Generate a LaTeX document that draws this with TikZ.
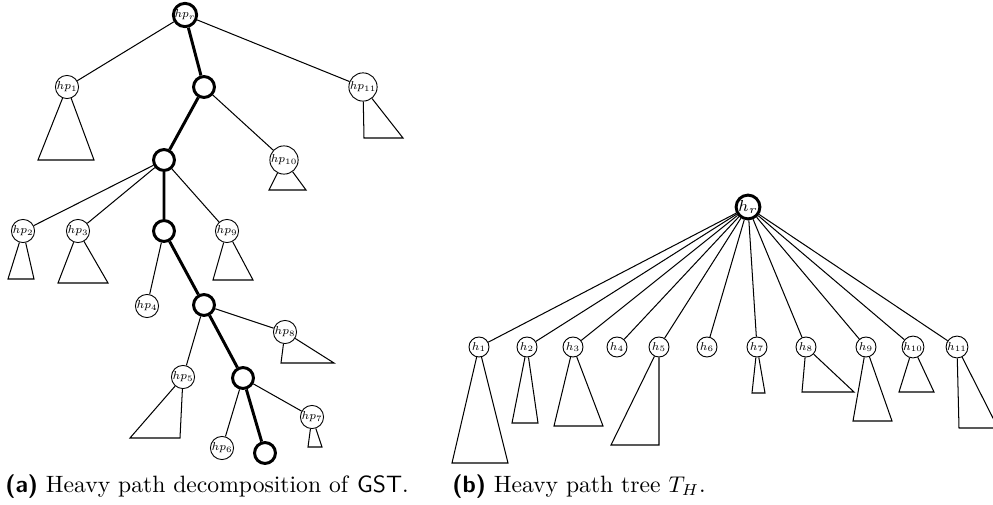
\documentclass[tikz,border=0pt]{standalone}
\usepackage{graphicx}
\usepackage{tikz}
\tikzstyle{hpnode} = [circle, draw=black, fill=white, inner sep=0pt, minimum size=8.8pt, font=\scriptsize]
\tikzstyle{heavynode} = [circle, draw=black, fill=white, line width=1.3pt, inner sep=0pt, minimum size=9.2pt]
\tikzstyle{light} = [line width=0.45pt]
\tikzstyle{heavy} = [line width=1.3pt]
\tikzstyle{caption} = [anchor=base west, inner sep=0pt, font=\fontsize{10.4}{12}\selectfont]
\newcommand{\hpl}[1]{\scalebox{0.72}{$#1$}}

\begin{document}
\begin{tikzpicture}[x=0.44pt, y=-0.44pt]
	\useasboundingbox (0,0) rectangle (993,505);

	\node (hpr) [heavynode, font=\scriptsize] at (185,15) {\hpl{hp_r}};
	\node (hp1) [hpnode] at (67,87) {\hpl{hp_1}};
	\node (a1) [heavynode] at (204,87) {};
	\node (hp11) [hpnode] at (363,87) {\hpl{hp_{11}}};
	\node (a2) [heavynode] at (164,160) {};
	\node (hp10) [hpnode] at (284,160) {\hpl{hp_{10}}};
	\node (hp2) [hpnode] at (23,231) {\hpl{hp_2}};
	\node (hp3) [hpnode] at (78,231) {\hpl{hp_3}};
	\node (a3) [heavynode] at (164,231) {};
	\node (hp9) [hpnode] at (227,231) {\hpl{hp_9}};
	\node (hp4) [hpnode] at (147,306) {\hpl{hp_4}};
	\node (a4) [heavynode] at (204,305) {};
	\node (hp8) [hpnode] at (285,332) {\hpl{hp_8}};
	\node (hp5) [hpnode] at (183,377) {\hpl{hp_5}};
	\node (a5) [heavynode] at (243,378) {};
	\node (hp7) [hpnode] at (312,417) {\hpl{hp_7}};
	\node (hp6) [hpnode] at (222,448) {\hpl{hp_6}};
	\node (a6) [heavynode] at (265,453) {};

	\draw [heavy] (hpr) -- (a1) -- (a2) -- (a3) -- (a4) -- (a5) -- (a6);
	\draw [light] (hpr) -- (hp1);
	\draw [light] (hpr) -- (hp11);
	\draw [light] (a1) -- (hp10);
	\draw [light] (a2) -- (hp2);
	\draw [light] (a2) -- (hp3);
	\draw [light] (a2) -- (hp9);
	\draw [light] (a3) -- (hp4);
	\draw [light] (a4) -- (hp8);
	\draw [light] (a4) -- (hp5);
	\draw [light] (a5) -- (hp6);
	\draw [light] (a5) -- (hp7);

	\foreach \n/\l/\r/\y in {hp1/38/94/160, hp11/364/403/138, hp10/269/306/190,
		hp2/8/34/279, hp3/58/108/283, hp9/213/253/280, hp8/281/334/363,
		hp5/130/180/438, hp7/308/322/447}
		\draw [light] (\n) -- (\l,\y) -- (\r,\y) -- (\n);

	\node (hr) [heavynode, minimum size=9.9pt, font=\scriptsize] at (748,207) {$h_r$};
	\foreach \i/\x in {1/479, 2/527, 3/573, 4/617, 5/659, 6/707, 7/757, 8/806, 9/866, 10/913, 11/957} {
		\node (h\i) [hpnode] at (\x,347) {\hpl{h_{\i}}};
		\draw [light] (hr) -- (h\i);
	}

	\foreach \n/\l/\r/\y in {h1/452/508/463, h2/512/538/423, h3/554/603/426,
		h5/611/659/445, h7/752/765/393, h8/802/854/392, h9/853/892/421,
		h10/899/934/392, h11/959/998/428}
		\draw [light] (\n) -- (\l,\y) -- (\r,\y) -- (\n);

	\node (capa) [caption] at (5,492) {\textsf{\textbf{(a)}} Heavy path decomposition of \textsf{GST}.};
	\node (capb) [caption] at (452,492) {\textsf{\textbf{(b)}} Heavy path tree $T_H$.};
\end{tikzpicture}
\end{document}
